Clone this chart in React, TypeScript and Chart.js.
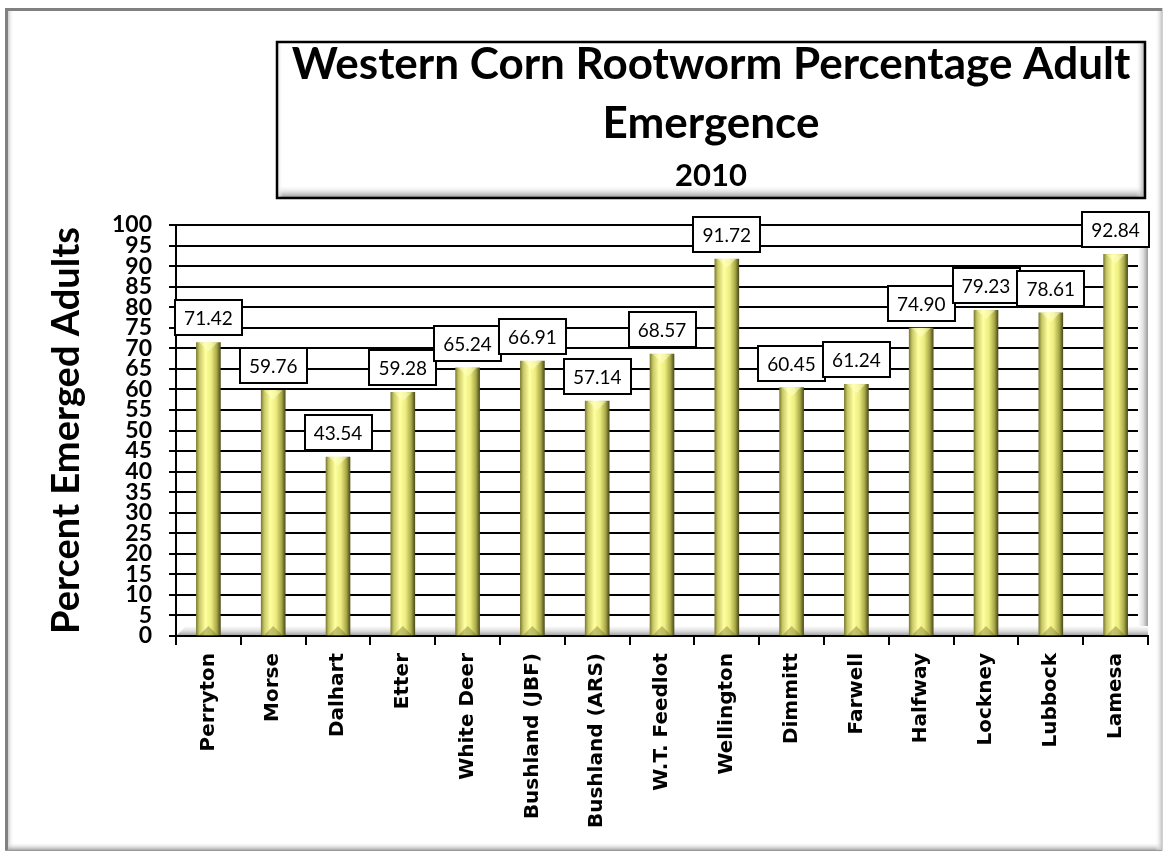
import React, { useEffect, useRef } from "react";
import { Chart, registerables } from "chart.js";

Chart.register(...registerables);

const CATEGORIES = [
  "Perryton",
  "Morse",
  "Dalhart",
  "Etter",
  "White Deer",
  "Bushland (JBF)",
  "Bushland (ARS)",
  "W.T. Feedlot",
  "Wellington",
  "Dimmitt",
  "Farwell",
  "Halfway",
  "Lockney",
  "Lubbock",
  "Lamesa",
];
const EMERGENCE = [
  71.42, 59.76, 43.54, 59.28, 65.24, 66.91, 57.14, 68.57, 91.72, 60.45, 61.24,
  74.9, 79.23, 78.61, 92.84,
];
const Y_TICKS = [
  0, 5, 10, 15, 20, 25, 30, 35, 40, 45, 50, 55, 60, 65, 70, 75, 80, 85, 90, 95,
  100,
];
const TITLE_LINES = ["Western Corn Rootworm Percentage Adult", "Emergence"];
const SUBTITLE = "2010";
const Y_TITLE = "Percent Emerged Adults";

const W = 1168;
const H = 854;
const TITLE_FONT = "Lato";
const LABEL_FONT = "'DejaVu Sans', Verdana, sans-serif";

const framePlugin = {
  id: "frame",
  beforeDraw(chart: any) {
    const ctx = chart.ctx as CanvasRenderingContext2D;
    ctx.save();
    ctx.fillStyle = "#ffffff";
    ctx.fillRect(0, 0, W, H);
    // outer frame
    let g = ctx.createLinearGradient(8, 0, 14, 0);
    g.addColorStop(0, "#cfcfcf");
    g.addColorStop(1, "rgba(255,255,255,0)");
    ctx.fillStyle = g;
    ctx.fillRect(8, 11, 6, 838);
    g = ctx.createLinearGradient(0, 842, 0, 850);
    g.addColorStop(0, "rgba(255,255,255,0)");
    g.addColorStop(1, "#a8a8a8");
    ctx.fillStyle = g;
    ctx.fillRect(8, 842, 1154, 8);
    g = ctx.createLinearGradient(1155, 0, 1162, 0);
    g.addColorStop(0, "rgba(255,255,255,0)");
    g.addColorStop(1, "#c4c4c4");
    ctx.fillStyle = g;
    ctx.fillRect(1155, 11, 7, 839);
    ctx.fillStyle = "#808080";
    ctx.fillRect(5, 8, 1158, 3);
    ctx.fillRect(5, 8, 3, 843);
    ctx.fillStyle = "#9a9a9a";
    ctx.fillRect(5, 850, 1158, 1);
    ctx.fillStyle = "#d0d0d0";
    ctx.fillRect(1162, 8, 1, 843);

    // title box
    const bx = 277,
      by = 42,
      bw = 868,
      bh = 156;
    ctx.fillStyle = "#ffffff";
    ctx.fillRect(bx, by, bw, bh);
    g = ctx.createLinearGradient(0, by + bh - 13, 0, by + bh);
    g.addColorStop(0, "rgba(255,255,255,0)");
    g.addColorStop(1, "#8c8c8c");
    ctx.fillStyle = g;
    ctx.fillRect(bx, by + bh - 13, bw, 13);
    g = ctx.createLinearGradient(bx + bw - 9, 0, bx + bw, 0);
    g.addColorStop(0, "rgba(255,255,255,0)");
    g.addColorStop(1, "#9a9a9a");
    ctx.fillStyle = g;
    ctx.fillRect(bx + bw - 9, by, 9, bh);
    g = ctx.createLinearGradient(bx, 0, bx + 6, 0);
    g.addColorStop(0, "#d8d8d8");
    g.addColorStop(1, "rgba(255,255,255,0)");
    ctx.fillStyle = g;
    ctx.fillRect(bx, by, 6, bh);
    ctx.strokeStyle = "#000000";
    ctx.lineWidth = 2.5;
    ctx.strokeRect(bx, by, bw, bh);
    ctx.restore();
  },
  afterDraw(chart: any) {
    const ctx = chart.ctx as CanvasRenderingContext2D;
    ctx.save();
    ctx.fillStyle = "#000000";
    ctx.textAlign = "center";
    ctx.textBaseline = "alphabetic";
    const cx = 277 + 868 / 2;
    ctx.font = `bold 44px ${TITLE_FONT}`;
    ctx.fillText(TITLE_LINES[0], cx, 79);
    ctx.fillText(TITLE_LINES[1], cx, 138);
    ctx.font = `bold 31px ${TITLE_FONT}`;
    ctx.fillText(SUBTITLE, cx, 186);
    ctx.restore();
  },
};

const wallPlugin = {
  id: "wall",
  beforeDatasetsDraw(chart: any) {
    const ctx = chart.ctx as CanvasRenderingContext2D;
    const a = chart.chartArea;
    ctx.save();
    // right wall
    let g = ctx.createLinearGradient(a.right - 10, 0, a.right, 0);
    g.addColorStop(0, "rgba(255,255,255,1)");
    g.addColorStop(0.5, "#e2e2e2");
    g.addColorStop(1, "#9c9c9c");
    ctx.fillStyle = g;
    ctx.fillRect(a.right - 10, a.top - 1, 10, a.bottom - a.top);
    // floor
    g = ctx.createLinearGradient(0, a.bottom - 10, 0, a.bottom);
    g.addColorStop(0, "#ffffff");
    g.addColorStop(0.5, "#dedede");
    g.addColorStop(1, "#9a9a9a");
    ctx.fillStyle = g;
    ctx.beginPath();
    ctx.moveTo(a.left + 1, a.bottom - 1);
    ctx.lineTo(a.left + 10, a.bottom - 10);
    ctx.lineTo(a.right, a.bottom - 10);
    ctx.lineTo(a.right, a.bottom - 1);
    ctx.closePath();
    ctx.fill();
    ctx.restore();
  },
};

const labelPlugin = {
  id: "valueBoxes",
  afterDatasetsDraw(chart: any) {
    const ctx = chart.ctx as CanvasRenderingContext2D;
    const meta = chart.getDatasetMeta(0);
    ctx.save();
    // bar bevels
    meta.data.forEach((el: any) => {
      const half = el.width / 2;
      ctx.fillStyle = "rgba(255,255,200,0.55)";
      ctx.beginPath();
      ctx.moveTo(el.x - half + 3, el.y);
      ctx.lineTo(el.x + half - 3, el.y);
      ctx.lineTo(el.x, el.y + 9);
      ctx.closePath();
      ctx.fill();
      ctx.fillStyle = "rgba(90,90,30,0.35)";
      ctx.beginPath();
      ctx.moveTo(el.x - half + 3, el.base);
      ctx.lineTo(el.x + half - 3, el.base);
      ctx.lineTo(el.x, el.base - 9);
      ctx.closePath();
      ctx.fill();
    });
    ctx.font = `19px ${TITLE_FONT}`;
    ctx.textAlign = "center";
    ctx.textBaseline = "middle";
    meta.data.forEach((el: any, i: number) => {
      const text = EMERGENCE[i].toFixed(2);
      const tw = ctx.measureText(text).width;
      const bw = Math.round(tw + 18);
      const bh = 35;
      const bx = Math.round(el.x - bw / 2);
      const by = Math.round(el.y - 7 - bh);
      ctx.fillStyle = "#ffffff";
      ctx.fillRect(bx, by, bw, bh);
      ctx.strokeStyle = "#000000";
      ctx.lineWidth = 2;
      ctx.strokeRect(bx, by, bw, bh);
      ctx.fillStyle = "#000000";
      ctx.fillText(text, el.x, by + bh / 2 + 1);
    });
    ctx.restore();
  },
};

export default function App() {
  const ref = useRef<HTMLCanvasElement | null>(null);

  useEffect(() => {
    if (!ref.current) return;
    const chart = new Chart(ref.current, {
      type: "bar",
      data: {
        labels: CATEGORIES,
        datasets: [
          {
            data: EMERGENCE,
            barThickness: 24,
            borderWidth: 0,
            backgroundColor: (c: any) => {
              const ch = c.chart;
              const xs = ch.scales && ch.scales.x;
              if (!xs || c.type !== "data") return "#e6e67a";
              const cx = xs.getPixelForValue(c.dataIndex);
              if (!Number.isFinite(cx)) return "#e6e67a";
              const g = ch.ctx.createLinearGradient(cx - 12, 0, cx + 12, 0);
              g.addColorStop(0, "#7e7e34");
              g.addColorStop(0.12, "#c6c664");
              g.addColorStop(0.38, "#ffffa0");
              g.addColorStop(0.62, "#ecec80");
              g.addColorStop(0.85, "#a8a848");
              g.addColorStop(1, "#4e4e1c");
              return g;
            },
          },
        ],
      },
      options: {
        responsive: false,
        animation: false,
        devicePixelRatio: 1,
        layout: { padding: { top: 225, left: 0, right: 20, bottom: 0 } },
        plugins: {
          legend: { display: false },
          tooltip: { enabled: false },
          title: { display: false },
        },
        scales: {
          x: {
            offset: true,
            grid: {
              display: true,
              drawOnChartArea: false,
              drawTicks: true,
              tickLength: 9,
              color: "#000000",
              lineWidth: 2,
              offset: true,
            },
            border: { display: true, color: "#000000", width: 2 },
            ticks: {
              color: "#000000",
              font: { family: LABEL_FONT, weight: "bold", size: 20 },
              minRotation: 90,
              maxRotation: 90,
              autoSkip: false,
              padding: 8,
            },
            afterFit: (s: any) => {
              s.height = H - 636;
            },
          },
          y: {
            min: 0,
            max: 100,
            grid: {
              color: "#000000",
              lineWidth: 2,
              drawTicks: true,
              tickLength: 7,
            },
            border: { display: true, color: "#000000", width: 2 },
            ticks: {
              color: "#000000",
              font: { family: TITLE_FONT, weight: "bold", size: 23, lineHeight: 0.9 },
              autoSkip: false,
              padding: 17,
            },
            afterBuildTicks: (s: any) => {
              s.ticks = Y_TICKS.map((v) => ({ value: v }));
            },
            afterFit: (s: any) => {
              s.width = 176;
            },
            title: {
              display: true,
              text: Y_TITLE,
              color: "#000000",
              font: { family: TITLE_FONT, weight: "bold", size: 38 },
              padding: { top: 44, bottom: 0 },
            },
          },
        },
      },
      plugins: [framePlugin, wallPlugin, labelPlugin],
    } as any);
    return () => chart.destroy();
  }, []);

  return (
    <div style={{ position: "absolute", left: 0, top: 0, width: W, height: H }}>
      <canvas ref={ref} width={W} height={H} style={{ display: "block" }} />
    </div>
  );
}
